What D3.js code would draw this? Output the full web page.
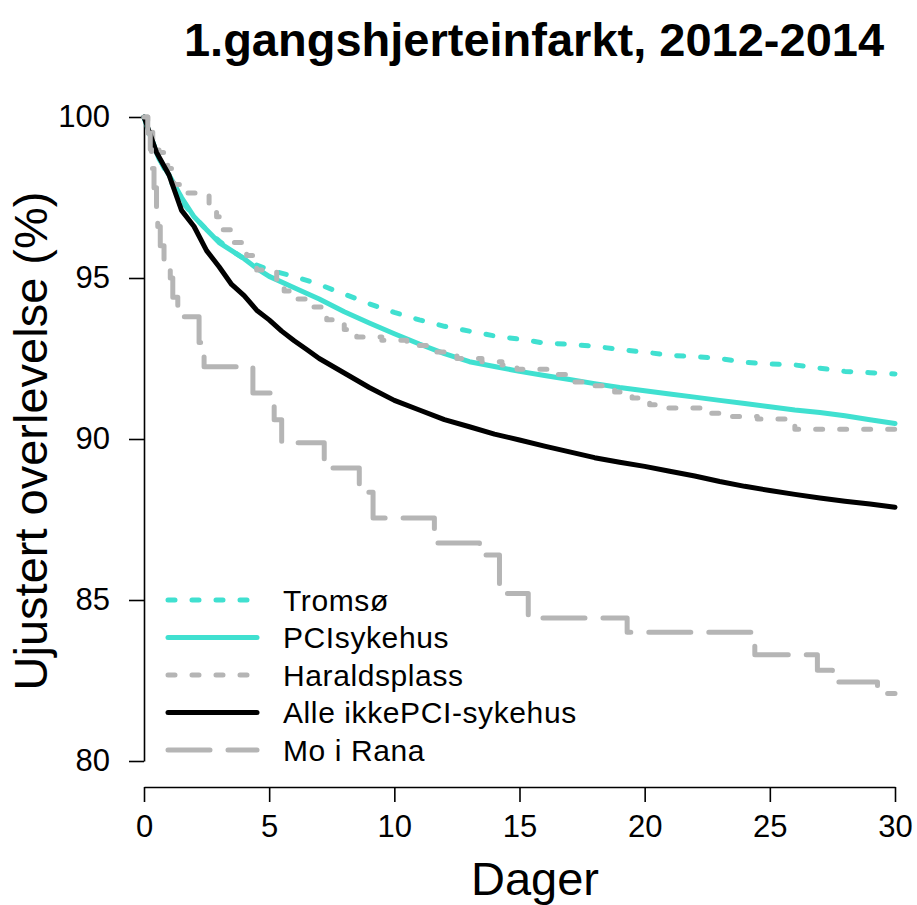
<!DOCTYPE html>
<html>
<head>
<meta charset="utf-8">
<script src="https://cdn.jsdelivr.net/npm/d3@7/dist/d3.min.js"></script>
<style>
  body { margin: 0; background: #fff; }
  svg text { font-family: "Liberation Sans", Arial, Helvetica, sans-serif; }
</style>
</head>
<body>
<svg id="chart"></svg>
<script>
// data: [day, survival %]
const xTicks = [0, 5, 10, 15, 20, 25, 30];
const yTicks = [80, 85, 90, 95, 100];

const tromso = [[0,100],[0.5,98.9],[1,98.1],[1.5,97.4],[2,96.9],[2.5,96.5],[3,96.15],[3.5,95.85],
  [4,95.6],[4.5,95.4],[5,95.25],[6,95.05],[7,94.8],[8,94.5],[9,94.2],[10,93.93],[11,93.7],[12,93.5],
  [13,93.35],[14,93.2],[15,93.1],[16,92.98],[17,92.94],[18,92.88],[19,92.78],[20,92.7],[21,92.6],
  [22,92.56],[23,92.5],[24,92.38],[25,92.33],[26,92.3],[27,92.2],[28,92.1],[29,92.06],[30,92.02]];

const pciSykehus = [[0,100],[0.3,99.3],[0.6,98.7],[1,98.2],[1.5,97.5],[2,96.9],[2.5,96.5],[3,96.1],
  [3.5,95.85],[4,95.6],[4.5,95.3],[5,95.05],[6,94.7],[7,94.35],[8,93.95],[9,93.6],[10,93.27],
  [11,92.95],[12,92.65],[13,92.4],[14,92.25],[15,92.1],[16,91.97],[17,91.85],[18,91.72],[19,91.6],
  [20,91.5],[21,91.4],[22,91.3],[23,91.2],[24,91.1],[25,91.0],[26,90.9],[27,90.82],[28,90.72],
  [29,90.6],[30,90.48]];

const haraldsplass = [[0,100],[0.15,99.6],[0.35,99.2],[0.6,98.9],[0.95,98.4],[1.2,97.9],[1.5,97.64],
  [2.6,97.3],[2.9,96.9],[3.15,96.5],[3.6,96.1],[4.1,95.7],[4.5,95.25],[5.3,94.9],[5.6,94.6],
  [6.0,94.35],[6.5,94.1],[7.3,93.7],[8.0,93.4],[8.5,93.17],[9.5,93.07],[10.5,92.9],[11.5,92.7],
  [12.5,92.5],[13.5,92.4],[14.3,92.3],[14.9,92.17],[16.5,92.0],[17.2,91.77],[18.0,91.65],
  [18.8,91.46],[19.5,91.27],[20.2,91.06],[20.9,90.96],[22.5,90.8],[23.5,90.7],[24.5,90.62],
  [26.0,90.3],[30,90.3]];

const alleIkkePci = [[0,100],[0.5,98.9],[1,98.2],[1.5,97.1],[2,96.6],[2.5,95.85],[3,95.35],[3.5,94.8],
  [4,94.45],[4.5,94.0],[5,93.7],[5.5,93.35],[6,93.05],[6.5,92.78],[7,92.5],[8,92.05],[9,91.6],
  [10,91.2],[11,90.9],[12,90.6],[13,90.38],[14,90.15],[15,89.97],[16,89.78],[17,89.6],[18,89.42],
  [19,89.28],[20,89.15],[21,89.0],[22,88.85],[23,88.68],[24,88.53],[25,88.4],[26,88.28],[27,88.17],
  [28,88.07],[29,87.98],[30,87.88]];

const moIRana = [[0,100],[0.15,99.5],[0.25,99.0],[0.3,98.4],[0.4,97.8],[0.5,97.2],[0.55,96.6],
  [0.65,96.0],[0.8,95.5],[1.05,95.0],[1.15,94.4],[1.35,93.8],[2.2,93.0],[2.4,92.24],[4.35,91.43],
  [5.2,90.6],[5.5,89.88],[7.2,89.1],[8.6,88.35],[9.15,87.55],[11.6,86.77],[13.4,86.4],[14.2,85.2],
  [15.35,84.44],[19.3,84.0],[24.4,83.3],[26.9,82.82],[27.5,82.45],[29.3,82.1],[30,82.1]];

const legendNames = ['Tromsø', 'PCIsykehus', 'Haraldsplass', 'Alle ikkePCI-sykehus', 'Mo i Rana'];

const W = 917, H = 905;
const svg = d3.select('#chart').attr('width', W).attr('height', H);

const xScale = d3.scaleLinear().domain([0, 30]).range([144, 895]);
const yScale = d3.scaleLinear().domain([80, 100]).range([761, 117]);

const TURQ = '#40e0d0', GREY = '#b5b5b5';
const styles = [
  { data: tromso,       color: TURQ,   dash: '7 17',  step: false },
  { data: pciSykehus,   color: TURQ,   dash: null,    step: false },
  { data: haraldsplass, color: GREY,   dash: '7 17',  step: true },
  { data: alleIkkePci,  color: '#000', dash: null,    step: false },
  { data: moIRana,      color: GREY,   dash: '42 18', step: true }
];

// title
svg.append('text').attr('x', 534).attr('y', 56).attr('text-anchor', 'middle')
  .style('font-size', '47px').style('font-weight', 'bold').text('1.gangshjerteinfarkt, 2012-2014');

// axes
const yAxis = svg.append('g').attr('transform', 'translate(144,0)')
  .call(d3.axisLeft(yScale).tickValues(yTicks).tickSize(15).tickSizeOuter(0).tickPadding(19));
const xAxis = svg.append('g').attr('transform', 'translate(0,787)')
  .call(d3.axisBottom(xScale).tickValues(xTicks).tickSize(15).tickSizeOuter(0).tickPadding(13));
[xAxis, yAxis].forEach(g => {
  g.selectAll('.domain,.tick line').attr('stroke', '#000').attr('stroke-width', 1.6);
  g.selectAll('text').attr('fill', '#000').style('font-size', '31px')
    .style('font-family', '"Liberation Sans", Arial, sans-serif');
});

svg.append('text').attr('x', 535).attr('y', 895).attr('text-anchor', 'middle')
  .style('font-size', '47px').text('Dager');
svg.append('text').attr('transform', 'translate(47,441) rotate(-90)').attr('text-anchor', 'middle')
  .style('font-size', '47px').text('Ujustert overlevelse (%)');

// curves
styles.forEach(s => {
  const line = d3.line().x(d => xScale(d[0])).y(d => yScale(d[1]))
    .curve(s.step ? d3.curveStepAfter : d3.curveLinear);
  svg.append('path').datum(s.data)
    .attr('fill', 'none').attr('stroke', s.color).attr('stroke-width', 5)
    .attr('stroke-linecap', 'round').attr('stroke-linejoin', 'round')
    .attr('stroke-dasharray', s.dash).attr('d', line);
});

// legend
const legend = svg.append('g');
styles.forEach((s, i) => {
  const ly = 600 + i * 37.5;
  legend.append('line').attr('x1', 168).attr('x2', 257).attr('y1', ly).attr('y2', ly)
    .attr('stroke', s.color).attr('stroke-width', 5).attr('stroke-linecap', 'round')
    .attr('stroke-dasharray', s.dash);
  legend.append('text').attr('x', 283).attr('y', ly).attr('dy', '0.36em')
    .style('font-size', '30px').style('letter-spacing', '0.6px').text(legendNames[i]);
});
</script>
</body>
</html>
